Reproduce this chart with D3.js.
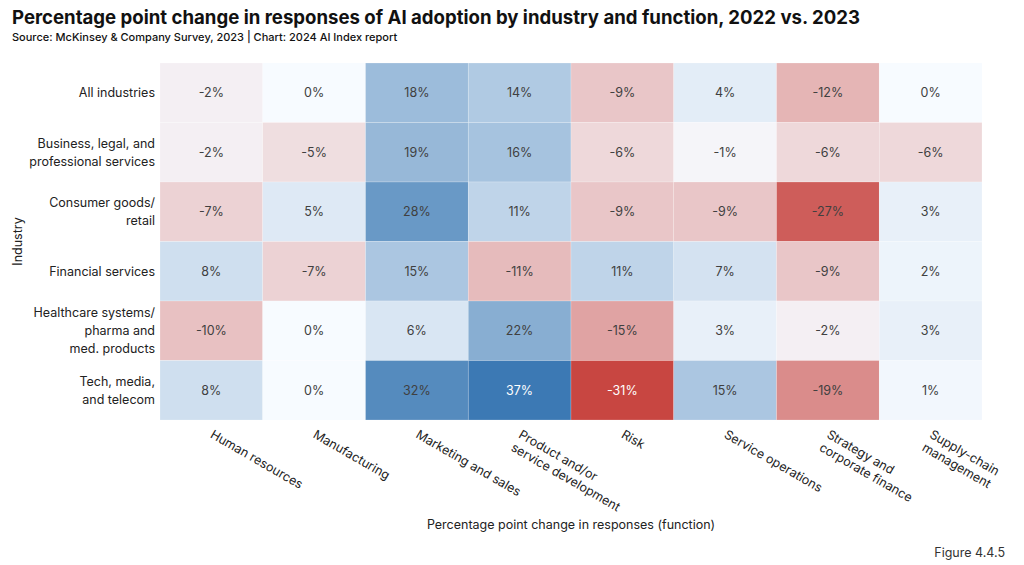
<!DOCTYPE html>
<html><head><meta charset="utf-8">
<script src="https://cdn.jsdelivr.net/npm/d3@7"></script>
<style>body{margin:0;background:#fff;} svg{display:block;font-family:Inter, "Noto Sans", sans-serif;}</style>
</head><body>
<svg id="c" width="1024" height="565"></svg>
<script>
const industries = [
  ["All industries"],
  ["Business, legal, and", "professional services"],
  ["Consumer goods/", "retail"],
  ["Financial services"],
  ["Healthcare systems/", "pharma and", "med. products"],
  ["Tech, media,", "and telecom"]
];
const functions = [
  ["Human resources"],
  ["Manufacturing"],
  ["Marketing and sales"],
  ["Product and/or", "service development"],
  ["Risk"],
  ["Service operations"],
  ["Strategy and", "corporate finance"],
  ["Supply-chain", "management"]
];
const valAll        = [-2, 0, 18, 14, -9, 4, -12, 0];
const valBusiness   = [-2, -5, 19, 16, -6, -1, -6, -6];
const valConsumer   = [-7, 5, 28, 11, -9, -9, -27, 3];
const valFinancial  = [8, -7, 15, -11, 11, 7, -9, 2];
const valHealthcare = [-10, 0, 6, 22, -15, 3, -2, 3];
const valTech       = [8, 0, 32, 37, -31, 15, -19, 1];
const rows = [valAll, valBusiness, valConsumer, valFinancial, valHealthcare, valTech];

(function () {
const svg = d3.select("#c");
const mL = 160, mR = 982, mT = 63, mB = 420;
const rowKeys = industries.map((d, i) => i);
const colKeys = functions.map((d, i) => i);
const x = d3.scaleBand().domain(colKeys).range([mL, mR]);
const y = d3.scaleBand().domain(rowKeys).range([mT, mB]);
const color = d3.scaleLinear().domain([-31, 0, 37]).range(["#c84641", "#f7fbff", "#3c79b4"]).interpolate(d3.interpolateRgb);

const cells = [];
rows.forEach((r, i) => r.forEach((v, j) => cells.push({i, j, v})));

svg.append("g").selectAll("rect").data(cells).join("rect")
  .attr("x", d => x(d.j)).attr("y", d => y(d.i))
  .attr("width", x.bandwidth()).attr("height", y.bandwidth())
  .attr("fill", d => color(d.v))
  .attr("stroke", "rgba(255,255,255,0.35)").attr("stroke-width", 0.6);

svg.append("g").selectAll("text").data(cells).join("text")
  .attr("x", d => x(d.j) + x.bandwidth() / 2)
  .attr("y", d => y(d.i) + y.bandwidth() / 2)
  .attr("dy", "0.35em").attr("text-anchor", "middle")
  .attr("font-size", 12.5)
  .attr("fill", d => d3.lab(color(d.v)).l < 54 ? "#ffffff" : "#404040")
  .text(d => d.v + "%");

const yl = svg.append("g");
industries.forEach((lines, i) => {
  const cy = y(i) + y.bandwidth() / 2;
  const lh = 18;
  const t = yl.append("text").attr("text-anchor", "end").attr("font-size", 12.5).attr("fill", "#222");
  lines.forEach((ln, k) => {
    t.append("tspan").attr("x", 155).attr("y", cy + (k - (lines.length - 1) / 2) * lh).attr("dy", "0.35em").text(ln);
  });
});

const xl = svg.append("g");
functions.forEach((lines, j) => {
  const cx = x(j) + x.bandwidth() / 2 - 2;
  const g = xl.append("g").attr("transform", `translate(${cx},${mB + 17}) rotate(30)`);
  lines.forEach((ln, k) => {
    g.append("text").attr("x", 0).attr("y", k * 15).attr("font-size", 12.5).attr("fill", "#222").text(ln);
  });
});

svg.append("text").attr("x", 12).attr("y", 24).attr("font-size", 18.6).attr("font-weight", 700).attr("fill", "#111")
  .text("Percentage point change in responses of AI adoption by industry and function, 2022 vs. 2023");
svg.append("text").attr("x", 12).attr("y", 41).attr("font-size", 11).attr("font-weight", 500).attr("fill", "#111")
  .text("Source: McKinsey & Company Survey, 2023 | Chart: 2024 AI Index report");
svg.append("text").attr("transform", `translate(22,${(mT + mB) / 2}) rotate(-90)`).attr("text-anchor", "middle")
  .attr("font-size", 12.5).attr("fill", "#222").text("Industry");
svg.append("text").attr("x", (mL + mR) / 2).attr("y", 529).attr("text-anchor", "middle")
  .attr("font-size", 12.5).attr("fill", "#222").text("Percentage point change in responses (function)");
svg.append("text").attr("x", 1005).attr("y", 557).attr("text-anchor", "end")
  .attr("font-size", 12.5).attr("fill", "#333").text("Figure 4.4.5");
})();
</script>
</body></html>
